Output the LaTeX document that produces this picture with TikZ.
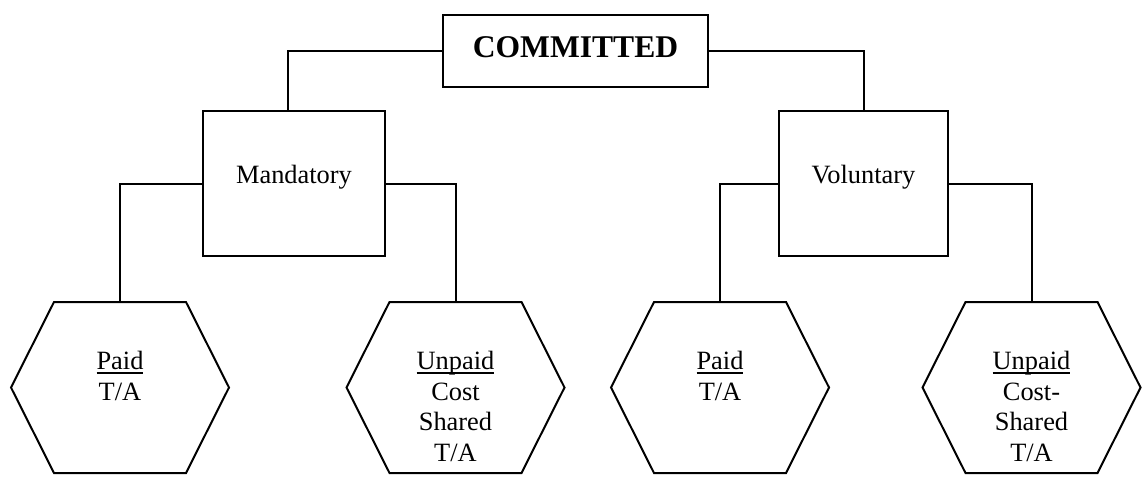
\documentclass[tikz,border=0pt]{standalone}
\usepackage{fontspec}
\setmainfont{Liberation Serif}
\newcommand{\myul}[1]{\setbox0\hbox{#1}\rlap{\rule[-2.25pt]{\wd0}{0.8pt}}\box0}
\newcommand{\hexpath}[1]{\draw (#1.west) -- ([xshift=21.5pt]#1.north west) -- ([xshift=-21.5pt]#1.north east) -- (#1.east) -- ([xshift=-21.5pt]#1.south east) -- ([xshift=21.5pt]#1.south west) -- cycle;}
\begin{document}
\begin{tikzpicture}[x=0.5pt,y=-0.5pt,line width=1pt,
  boxnode/.style={draw,rectangle,inner sep=0pt,font=\fontsize{13.2pt}{15.3pt}\selectfont,text height=5pt,text depth=5pt},
  topnode/.style={boxnode,font=\bfseries\fontsize{15.8pt}{18pt}\selectfont,text height=10pt,text depth=4pt},
  hexnode/.style={rectangle,inner sep=0pt,minimum width=108pt,minimum height=84.5pt,font=\fontsize{13.2pt}{15.3pt}\selectfont,text height=0pt,text depth=18pt}]
\useasboundingbox (0,0) rectangle (1143,477);
\node[topnode,minimum width=132.5pt,minimum height=36pt] (commit) at (575.5,51) {COMMITTED};
\node[boxnode,minimum width=91pt,minimum height=72.5pt] (mand) at (294,183.5) {Mandatory};
\node[boxnode,minimum width=84.5pt,minimum height=72.5pt] (vol) at (863.5,183.5) {Voluntary};
\node[hexnode] (h1) at (120,387.5) {\begin{tabular}[t]{@{}c@{}}\myul{Paid}\\T/A\end{tabular}};
\node[hexnode] (h2) at (455.5,387.5) {\begin{tabular}[t]{@{}c@{}}\myul{Unpaid}\\Cost\\Shared\\T/A\end{tabular}};
\node[hexnode] (h3) at (720,387.5) {\begin{tabular}[t]{@{}c@{}}\myul{Paid}\\T/A\end{tabular}};
\node[hexnode] (h4) at (1031.5,387.5) {\begin{tabular}[t]{@{}c@{}}\myul{Unpaid}\\Cost-\\Shared\\T/A\end{tabular}};
\hexpath{h1}
\hexpath{h2}
\hexpath{h3}
\hexpath{h4}
\draw (commit.west) -| ([xshift=-3pt]mand.north);
\draw (commit.east) -| (vol.north);
\draw (mand.west) -| (h1.north);
\draw (mand.east) -| (h2.north);
\draw (vol.west) -| (h3.north);
\draw (vol.east) -| (h4.north);
\end{tikzpicture}
\end{document}
